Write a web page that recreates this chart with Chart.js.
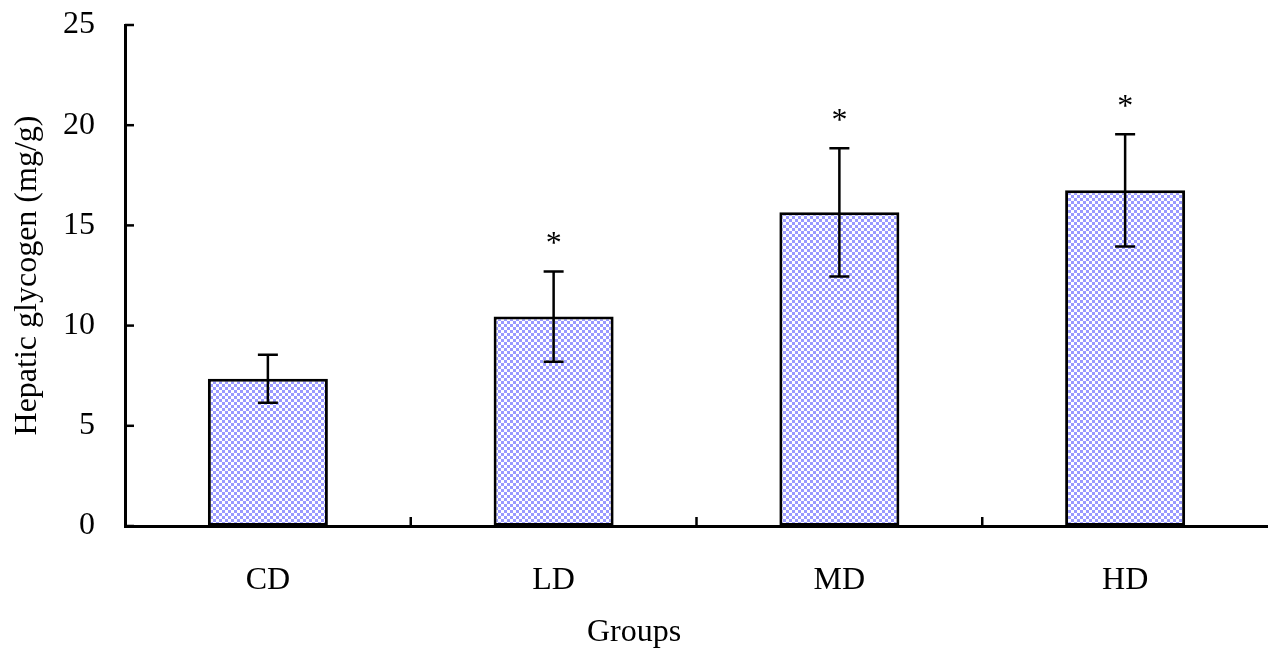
<!DOCTYPE html>
<html>
<head>
<meta charset="utf-8">
<script src="https://cdn.jsdelivr.net/npm/chart.js@4.4.1/dist/chart.umd.min.js"></script>
<style>
  html, body { margin: 0; padding: 0; background: #fff; }
  canvas { display: block; }
</style>
</head>
<body>
<canvas id="chart" width="1268" height="657" style="width:1268px;height:657px"></canvas>
<script>
const categories = ['CD', 'LD', 'MD', 'HD'];
const means = [7.35, 10.45, 15.65, 16.75];
const sds = [1.2, 2.25, 3.2, 2.8];
const marks = ['', '*', '*', '*'];
const yTicks = [0, 5, 10, 15, 20, 25];

const FONT = 'Liberation Serif, Times New Roman, serif';

// small checker tile like the old spreadsheet fill
function makePattern() {
  const c = document.createElement('canvas');
  c.width = 6; c.height = 6;
  const g = c.getContext('2d');
  g.fillStyle = '#fff';
  g.fillRect(0, 0, 6, 6);
  g.fillStyle = '#9999ff';
  g.fillRect(0, 0, 3, 3);
  g.fillRect(3, 3, 3, 3);
  return g.createPattern(c, 'repeat');
}

const overlay = {
  id: 'overlay',
  afterDraw(chart) {
    const { ctx, chartArea } = chart;
    const x = chart.scales.x, y = chart.scales.y;
    ctx.save();
    ctx.strokeStyle = '#000';
    ctx.lineWidth = 2.5;

    // inward ticks on y
    yTicks.forEach(v => {
      const py = y.getPixelForValue(v);
      ctx.beginPath();
      ctx.moveTo(chartArea.left, py);
      ctx.lineTo(chartArea.left + 9, py);
      ctx.stroke();
    });

    // inward ticks on x, between the groups
    for (let i = 1; i < categories.length; i++) {
      const px = (x.getPixelForValue(i - 1) + x.getPixelForValue(i)) / 2;
      ctx.beginPath();
      ctx.moveTo(px, chartArea.bottom);
      ctx.lineTo(px, chartArea.bottom - 9);
      ctx.stroke();
    }

    // error bars + significance marks
    ctx.fillStyle = '#000';
    ctx.font = '32px ' + FONT;
    ctx.textAlign = 'center';
    ctx.textBaseline = 'alphabetic';
    means.forEach((m, i) => {
      const px = x.getPixelForValue(i);
      const top = y.getPixelForValue(m + sds[i]);
      const bot = y.getPixelForValue(m - sds[i]);
      ctx.beginPath();
      ctx.moveTo(px, top);
      ctx.lineTo(px, bot);
      ctx.moveTo(px - 10, top);
      ctx.lineTo(px + 10, top);
      ctx.moveTo(px - 10, bot);
      ctx.lineTo(px + 10, bot);
      ctx.stroke();
      if (marks[i]) ctx.fillText(marks[i], px, top - 33 + 15);
    });
    ctx.restore();
  }
};

const ctx = document.getElementById('chart').getContext('2d');
new Chart(ctx, {
  type: 'bar',
  data: {
    labels: categories,
    datasets: [{
      data: means,
      backgroundColor: makePattern(),
      borderColor: '#000',
      borderWidth: 3,
      borderSkipped: false,
      barPercentage: 0.42,
      categoryPercentage: 1
    }]
  },
  options: {
    responsive: false,
    animation: false,
    layout: { padding: { top: 25, right: 0, bottom: 0, left: 0 } },
    plugins: {
      legend: { display: false },
      tooltip: { enabled: false },
      title: {
        display: true,
        text: 'Groups',
        position: 'bottom',
        color: '#000',
        font: { family: FONT, size: 32, weight: 'normal' },
        padding: { top: 0, bottom: 5 }
      }
    },
    scales: {
      x: {
        grid: { display: false, drawTicks: false },
        border: { display: true, color: '#000', width: 3 },
        ticks: { color: '#000', padding: 35, font: { family: FONT, size: 32 } },
        afterFit: s => { s.height = 87.6; s.paddingLeft = 0; s.paddingRight = 0; }
      },
      y: {
        min: 0,
        max: 25,
        afterBuildTicks: s => { s.ticks = yTicks.map(v => ({ value: v })); },
        grid: { display: false, drawTicks: false },
        border: { display: true, color: '#000', width: 3 },
        ticks: { color: '#000', padding: 30, font: { family: FONT, size: 32 } },
        title: {
          display: true,
          text: 'Hepatic glycogen (mg/g)',
          color: '#000',
          font: { family: FONT, size: 32 },
          padding: { top: 8, bottom: 0 }
        },
        afterFit: s => { s.width = 125; s.paddingTop = 0; s.paddingBottom = 0; }
      }
    }
  },
  plugins: [overlay]
});
</script>
</body>
</html>
